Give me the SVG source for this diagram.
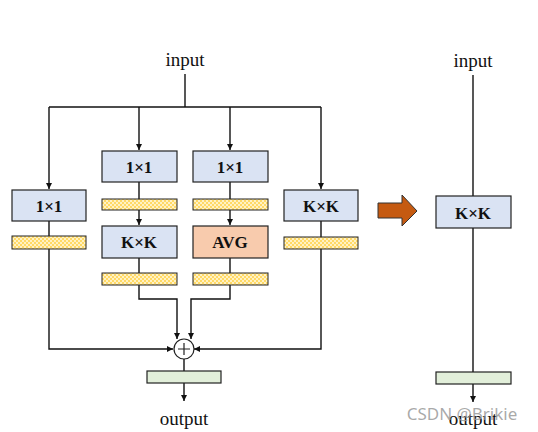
<svg xmlns="http://www.w3.org/2000/svg" width="538" height="432" viewBox="0 0 538 432">
<defs>
<pattern id="chk" width="4" height="4" patternUnits="userSpaceOnUse">
<rect width="4" height="4" fill="#fff2c4"/>
<rect width="2" height="2" fill="#ffd966"/>
<rect x="2" y="2" width="2" height="2" fill="#ffd966"/>
</pattern>
<marker id="ah" markerWidth="8" markerHeight="8" refX="6" refY="3" orient="auto" markerUnits="userSpaceOnUse">
<path d="M0,0 L6,3 L0,6 Z" fill="#111"/>
</marker>
<style>
.t{font-family:"Liberation Serif","Times New Roman",serif;font-size:19px;fill:#111;text-anchor:middle}
.b{font-family:"Liberation Serif","Times New Roman",serif;font-size:17px;font-weight:bold;fill:#111;text-anchor:middle}
.box{fill:#dae3f3;stroke:#222;stroke-width:1.2}
.avg{fill:#f8cbad;stroke:#222;stroke-width:1.2}
.bn{fill:url(#chk);stroke:#222;stroke-width:1}
.out{fill:#e2efda;stroke:#222;stroke-width:1.2}
.ln{fill:none;stroke:#111;stroke-width:1.4}
.ar{fill:none;stroke:#111;stroke-width:1.4;marker-end:url(#ah)}
</style>
</defs>
<rect width="538" height="432" fill="#fff"/>

<g id="connectors">
<path class="ln" d="M185,74 V107"/>
<path class="ln" d="M49,107 H321"/>
<path class="ar" d="M49,107 V189"/>
<path class="ar" d="M139,107 V150"/>
<path class="ar" d="M230,107 V150"/>
<path class="ar" d="M321,107 V189"/>
<path class="ln" d="M49,221 V236"/>
<path class="ln" d="M321,221 V237"/>
<path class="ln" d="M139,182 V199"/>
<path class="ln" d="M230,182 V199"/>
<path class="ar" d="M139,210 V225"/>
<path class="ar" d="M230,210 V225"/>
<path class="ln" d="M139,258 V273"/>
<path class="ln" d="M230,258 V273"/>
<path class="ar" d="M49,249 V349 H173"/>
<path class="ar" d="M321,249 V349 H194"/>
<path class="ar" d="M139,285 V299 H177 V339"/>
<path class="ar" d="M230,285 V299 H191 V339"/>
<path class="ln" d="M184,359 V371"/>
<path class="ar" d="M184,383 V401"/>
<path class="ln" d="M473,75 V196"/>
<path class="ln" d="M473,228 V372"/>
<path class="ar" d="M473,384 V402"/>
</g>

<g id="input-left"><text class="t" x="185" y="66">input</text></g>

<g id="b1-conv"><rect class="box" x="12" y="190" width="74" height="31"/><text class="b" x="49" y="211.5">1×1</text></g>
<g id="b1-bn"><rect class="bn" x="12" y="236" width="74" height="13"/></g>

<g id="b2-conv1"><rect class="box" x="102" y="151" width="75" height="31"/><text class="b" x="139" y="172.5">1×1</text></g>
<g id="b2-bn1"><rect class="bn" x="102" y="199" width="75" height="11"/></g>
<g id="b2-convk"><rect class="box" x="102" y="226" width="75" height="32"/><text class="b" x="139" y="248">K×K</text></g>
<g id="b2-bn2"><rect class="bn" x="102" y="273" width="75" height="12"/></g>

<g id="b3-conv1"><rect class="box" x="193" y="151" width="75" height="31"/><text class="b" x="230" y="172.5">1×1</text></g>
<g id="b3-bn1"><rect class="bn" x="193" y="199" width="75" height="11"/></g>
<g id="b3-avg"><rect class="avg" x="193" y="226" width="75" height="32"/><text class="b" x="230" y="248">AVG</text></g>
<g id="b3-bn2"><rect class="bn" x="193" y="273" width="75" height="12"/></g>

<g id="b4-convk"><rect class="box" x="284" y="190" width="74" height="31"/><text class="b" x="321" y="211.5">K×K</text></g>
<g id="b4-bn"><rect class="bn" x="284" y="237" width="74" height="12"/></g>

<g id="add"><circle cx="184" cy="349" r="10" fill="#fff" stroke="#222" stroke-width="1.2"/><path d="M178,349 H190 M184,343 V355" stroke="#222" stroke-width="1.2"/></g>
<g id="out-bar-left"><rect class="out" x="147" y="371" width="74" height="12"/></g>
<g id="output-left"><text class="t" x="184" y="425">output</text></g>

<g id="transform-arrow"><path d="M378,203 H402 V195 L417,211 L402,226 V218 H378 Z" fill="#c55a11" stroke="#333" stroke-width="1"/></g>

<g id="input-right"><text class="t" x="473" y="67">input</text></g>
<g id="r-convk"><rect class="box" x="436" y="196" width="75" height="32"/><text class="b" x="473" y="218.5">K×K</text></g>
<g id="out-bar-right"><rect class="out" x="436" y="372" width="75" height="12"/></g>
<g id="output-right"><text class="t" x="473" y="425">output</text></g>

<text x="462" y="420" font-family="'Noto Sans','DejaVu Sans',sans-serif" font-size="17" fill="#9a9a9a" fill-opacity="0.85" text-anchor="middle">CSDN @Brikie</text>
</svg>
